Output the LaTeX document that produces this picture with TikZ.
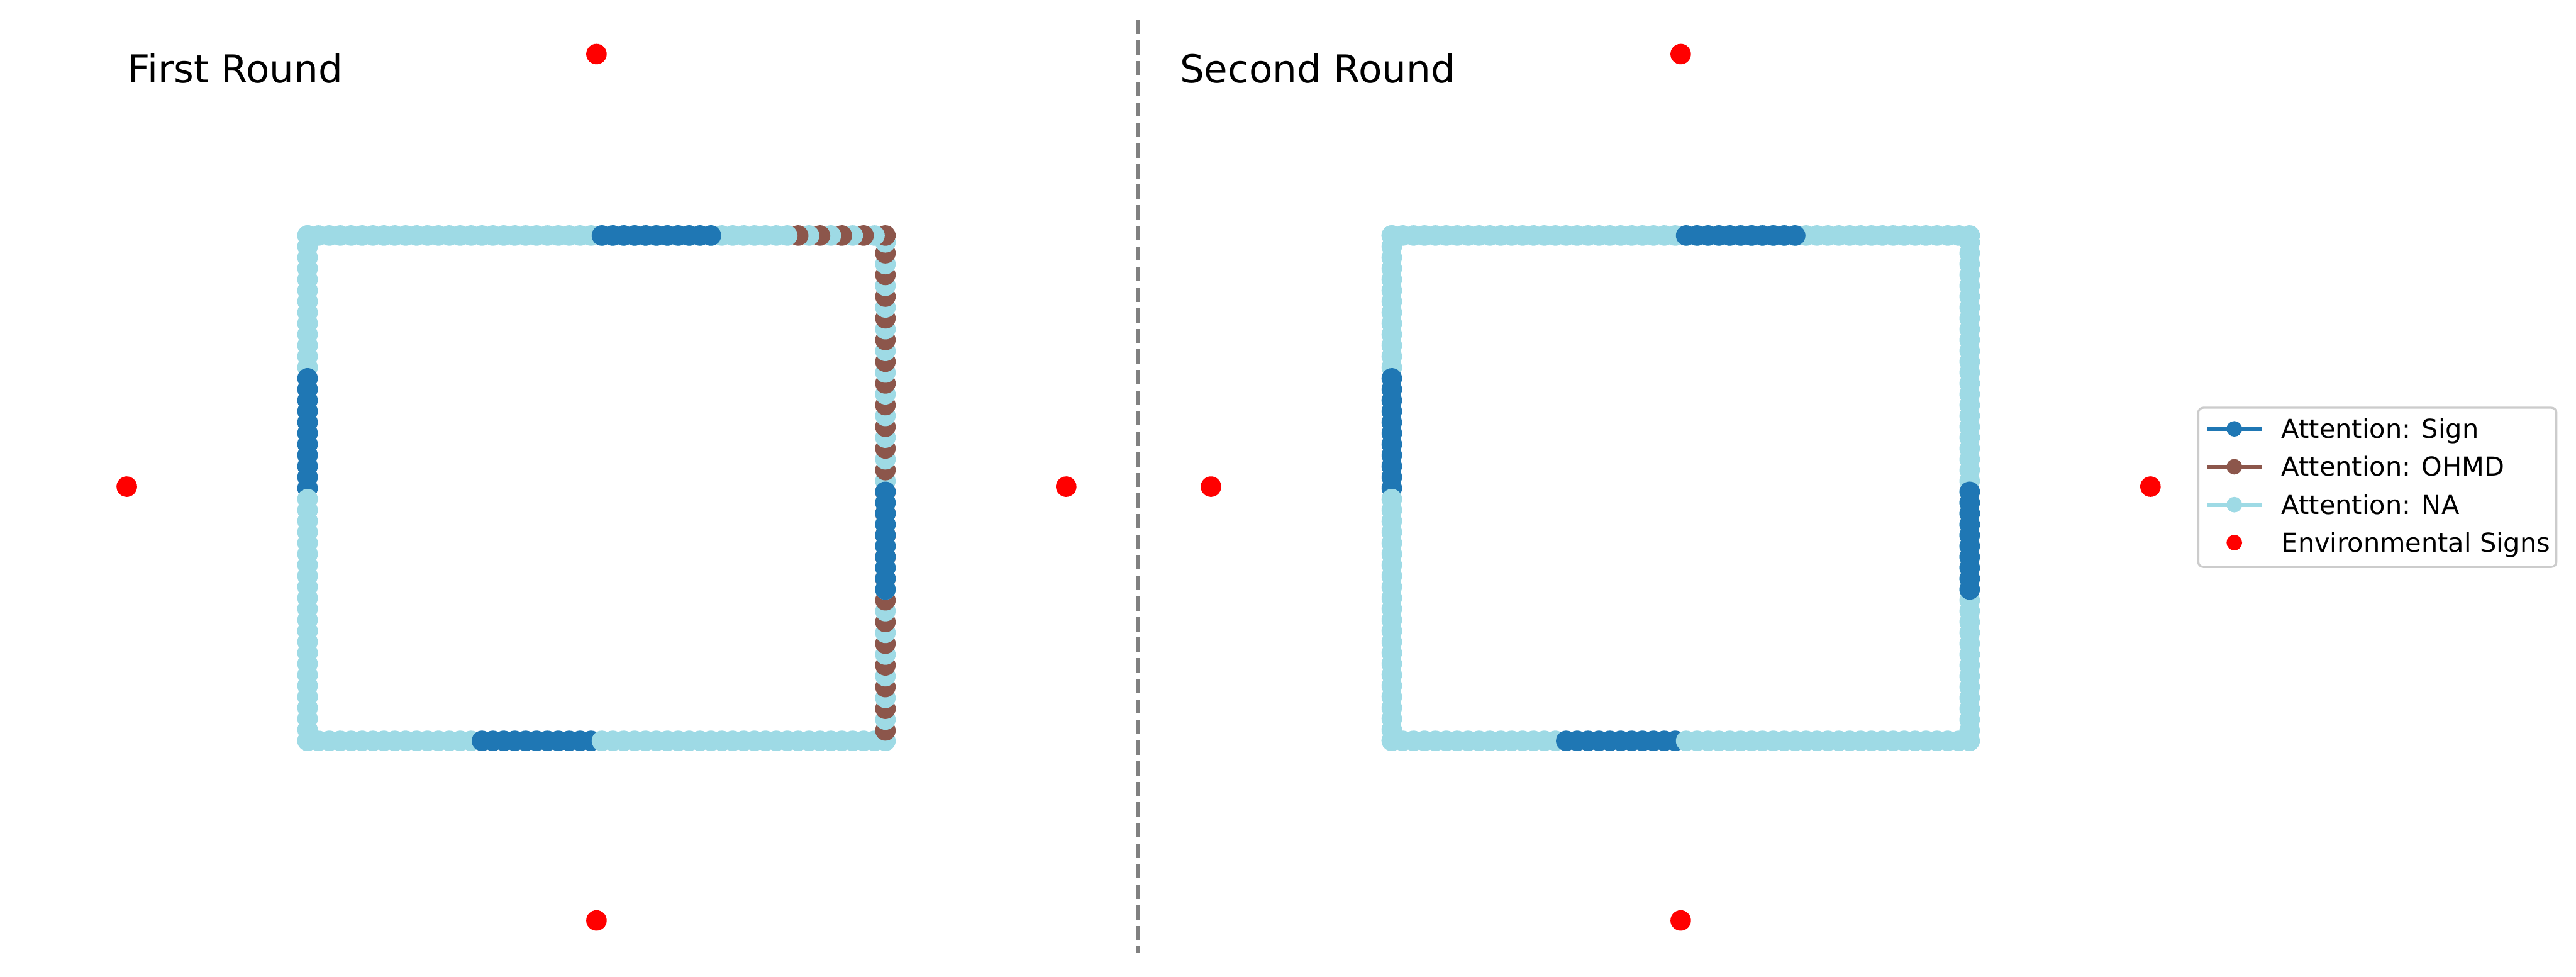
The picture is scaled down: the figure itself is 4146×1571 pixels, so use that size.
\documentclass[tikz,border=0pt]{standalone}
\usepackage{fontspec}
\setmainfont{DejaVu Sans}
\usepackage{xcolor}
\usepackage{tikz}
\usetikzlibrary{positioning}
\definecolor{signblue}{HTML}{1F77B4}
\definecolor{ohmdbrown}{HTML}{8C564B}
\definecolor{nablue}{HTML}{9EDAE5}
\definecolor{envred}{HTML}{FF0000}
\definecolor{divgray}{HTML}{808080}
\definecolor{framegray}{HTML}{CCCCCC}

\begin{document}
\begin{tikzpicture}[
    x=0.01cm, y=-0.01cm,
    every node/.style={
        inner sep=0pt,
        outer sep=0pt
    },
    title/.style={
        font=\fontsize{17.6}{21}\selectfont,
        anchor=base west
    },
    entry/.style={
        font=\fontsize{11.95}{14}\selectfont,
        anchor=base west
    },
    sign/.style={fill=signblue},
    ohmd/.style={fill=ohmdbrown},
    na/.style={fill=nablue},
    envsign/.style={
        circle,
        fill=envred,
        minimum size=0.33cm
    },
    keydot/.style={
        circle,
        minimum size=0.25cm
    },
    divider/.style={
        draw=divgray,
        line width=1.78pt,
        dash pattern=on 6.57pt off 2.85pt
    },
    frame/.style={
        draw=framegray,
        fill=white,
        line width=0.95pt,
        rounded corners=0.08cm,
        minimum width=5.76cm,
        minimum height=2.56cm,
        anchor=north west
    },
    keyline/.style={line width=1.9pt}
]

\useasboundingbox (0,0) rectangle (4146,1571);

% titles
\node[title] (first) at (206,133) {First Round};
\node[title] (second) at (1899,133) {Second Round};

% divider between the rounds
\coordinate (divtop) at (1832,32);
\coordinate (divbot) at (1832,1533);
\draw[divider] (divtop) -- (divbot);

% ---- first round ----
% left side, top to bottom
\foreach \a/\b/\c in {0/12/na, 13/23/sign, 24/46/na}
    \foreach \k in {\a,...,\b}
        \fill[\c] (495,379+17.67*\k) circle (0.165cm);
% bottom side, left to right
\foreach \a/\b/\c in {0/15/na, 16/26/sign, 27/53/na}
    \foreach \m in {\a,...,\b}
        \fill[\c] (495+17.547*\m,1192) circle (0.165cm);
% right side, bottom to top
\foreach \j in {45,44,...,0}{
    \ifodd\j \fill[ohmd] (1425,390+17.45*\j) circle (0.165cm);
    \else \fill[na] (1425,390+17.45*\j) circle (0.165cm); \fi
}
\foreach \j in {32,31,...,23}
    \fill[sign] (1425,390+17.45*\j) circle (0.165cm);
% top side, right to left
\foreach \i in {53,52,...,45}{
    \ifodd\i \fill[ohmd] (495+17.547*\i,379) circle (0.165cm);
    \else \fill[na] (495+17.547*\i,379) circle (0.165cm); \fi
}
\foreach \i in {44,43,...,0}
    \fill[na] (495+17.547*\i,379) circle (0.165cm);
\foreach \i in {37,36,...,27}
    \fill[sign] (495+17.547*\i,379) circle (0.165cm);

% environmental signs
\node[envsign] (n1) at (960,87) {};
\node[envsign] (w1) at (204,783) {};
\node[envsign] (e1) at (1716,783) {};
\node[envsign] (s1) at (960,1481) {};

% ---- second round ----
\begin{scope}[xshift=17.44cm]
\foreach \a/\b/\c in {0/12/na, 13/23/sign, 24/46/na}
    \foreach \k in {\a,...,\b}
        \fill[\c] (495,379+17.67*\k) circle (0.165cm);
\foreach \a/\b/\c in {0/15/na, 16/26/sign, 27/53/na}
    \foreach \m in {\a,...,\b}
        \fill[\c] (495+17.547*\m,1192) circle (0.165cm);
\foreach \j in {45,44,...,0}
    \fill[na] (1425,390+17.45*\j) circle (0.165cm);
\foreach \j in {32,31,...,23}
    \fill[sign] (1425,390+17.45*\j) circle (0.165cm);
\foreach \i in {53,52,...,0}
    \fill[na] (495+17.547*\i,379) circle (0.165cm);
\foreach \i in {37,36,...,27}
    \fill[sign] (495+17.547*\i,379) circle (0.165cm);

\node[envsign] (n2) at (960,87) {};
\node[envsign] (w2) at (204,783) {};
\node[envsign] (e2) at (1716,783) {};
\node[envsign] (s2) at (960,1481) {};
\end{scope}

% legend
\node[frame] (legend) at (3538,656) {};
\draw[keyline, signblue] (3552,690) -- (3640,690);
\node[keydot, fill=signblue] (ksign) at (3596,690) {};
\node[entry] (lsign) at (3672,705) {Attention: Sign};
\draw[keyline, ohmdbrown] (3552,751) -- (3640,751);
\node[keydot, fill=ohmdbrown] (kohmd) at (3596,751) {};
\node[entry] (lohmd) at (3672,766) {Attention: OHMD};
\draw[keyline, nablue] (3552,812) -- (3640,812);
\node[keydot, fill=nablue] (kna) at (3596,812) {};
\node[entry] (lna) at (3672,827) {Attention: NA};
\node[keydot, fill=envred] (kenv) at (3596,873) {};
\node[entry] (lenv) at (3672,888) {Environmental Signs};

\end{tikzpicture}
\end{document}
